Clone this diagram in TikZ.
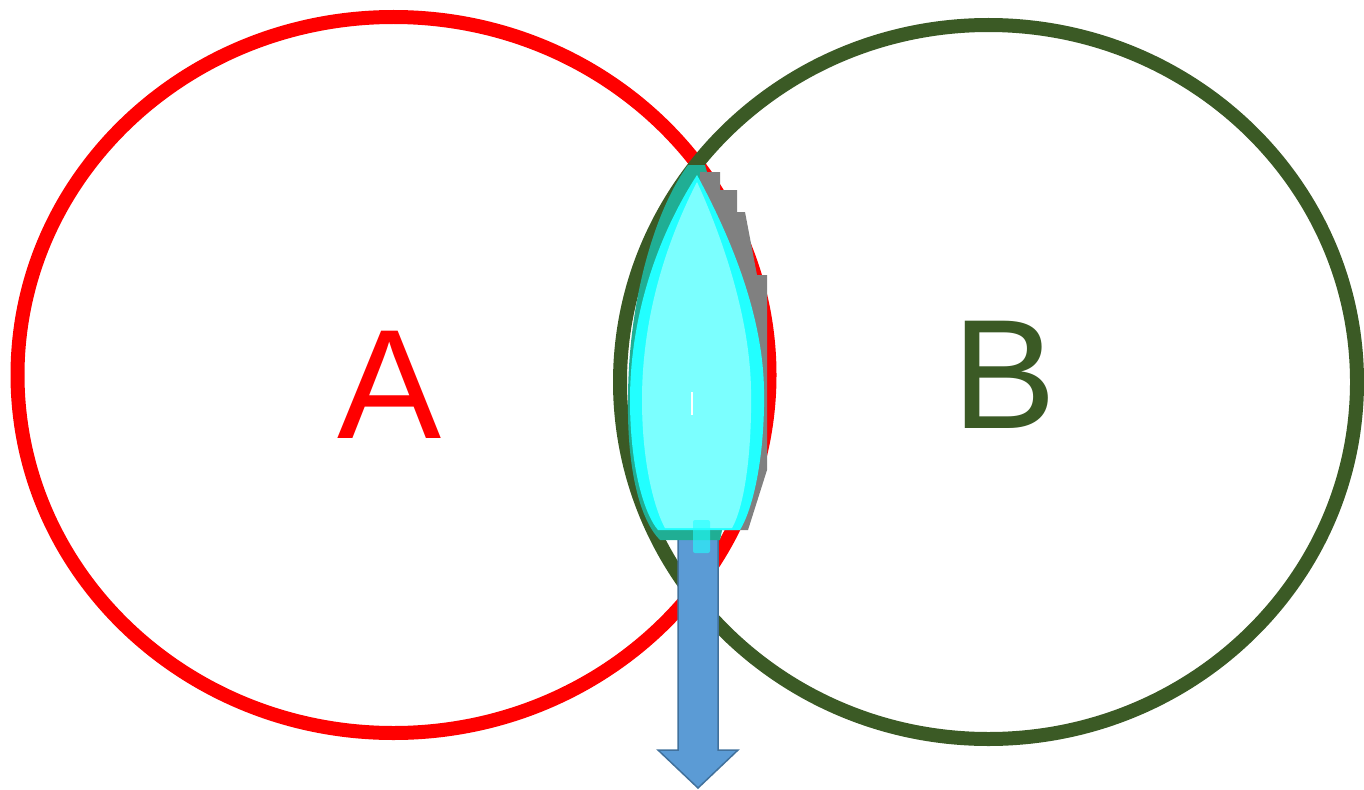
\documentclass[tikz,border=0pt]{standalone}
\usepackage{fontspec}
\setmainfont{Liberation Sans}
\usetikzlibrary{shapes.geometric}
\definecolor{ringred}{HTML}{FF0000}
\definecolor{ringgreen}{HTML}{3B5A25}
\definecolor{flameteal}{HTML}{20AE94}
\definecolor{flamegray}{HTML}{808080}
\definecolor{flamecyan}{HTML}{22FFFF}
\definecolor{flamelight}{HTML}{85FFFF}
\definecolor{arrowfill}{HTML}{5B9BD5}
\definecolor{arrowdraw}{HTML}{41719C}
\tikzset{
  ring/.style={ellipse, line width=14pt, inner sep=0pt, outer sep=0pt},
  setlabel/.style={font=\fontsize{156}{156}\selectfont, anchor=base, inner sep=0pt},
  flowarrow/.style={fill=arrowfill, draw=arrowdraw, line width=1.5pt, line join=miter},
}
\begin{document}
\begin{tikzpicture}[x=1pt, y=-1pt]
  \useasboundingbox (0,0) rectangle (1364,789);
  % the two sets
  \node[ring, draw=ringred, minimum width=752pt, minimum height=716pt] (setA) at (393.5,375) {};
  \node[ring, draw=ringgreen, minimum width=737pt, minimum height=714pt] (setB) at (988.5,382) {};
  \node[setlabel, text=ringred] (labA) at (390,438) {A};
  \node[setlabel, text=ringgreen] (labB) at (1005,428) {B};
  % outflow arrow
  \coordinate (flowtop) at (698,529);
  \coordinate (flowtip) at (698,788);
  \draw[flowarrow] (flowtop) ++(-20,0) -- ++(40,0) -- (718,750) -- (738,750)
    -- (flowtip) -- (658,750) -- (678,750) -- cycle;
  % flame in the intersection
  \fill[flameteal] (688,165) .. controls (655,210) and (628,300) .. (628,400)
    .. controls (627,470) and (640,520) .. (660,540) -- (720,540)
    .. controls (740,450) and (730,250) .. (705,165) -- cycle;
  \fill[flamegray] (700,172) -- (720,172) -- (720,190) -- (737,190) -- (737,212)
    -- (745,212) -- (757,275) -- (767,275) -- (767,470) -- (748,530) -- (700,530) -- cycle;
  \fill[flamecyan] (697,175) .. controls (655,240) and (630,320) .. (630,400)
    .. controls (630,470) and (645,515) .. (658,530) -- (740,530)
    .. controls (755,505) and (765,450) .. (764,390)
    .. controls (763,320) and (735,245) .. (697,175) -- cycle;
  \fill[flamelight, opacity=0.9] (697,182) .. controls (662,250) and (642,325) .. (642,400)
    .. controls (642,465) and (655,510) .. (665,528) -- (732,528)
    .. controls (745,505) and (752,450) .. (751,390)
    .. controls (750,325) and (728,250) .. (697,182) -- cycle;
  \fill[flamecyan, opacity=0.6, rounded corners=2pt] (693,520) rectangle (710,553);
  \draw[white, line width=1.2pt] (692,392) -- (692,415);
\end{tikzpicture}
\end{document}
